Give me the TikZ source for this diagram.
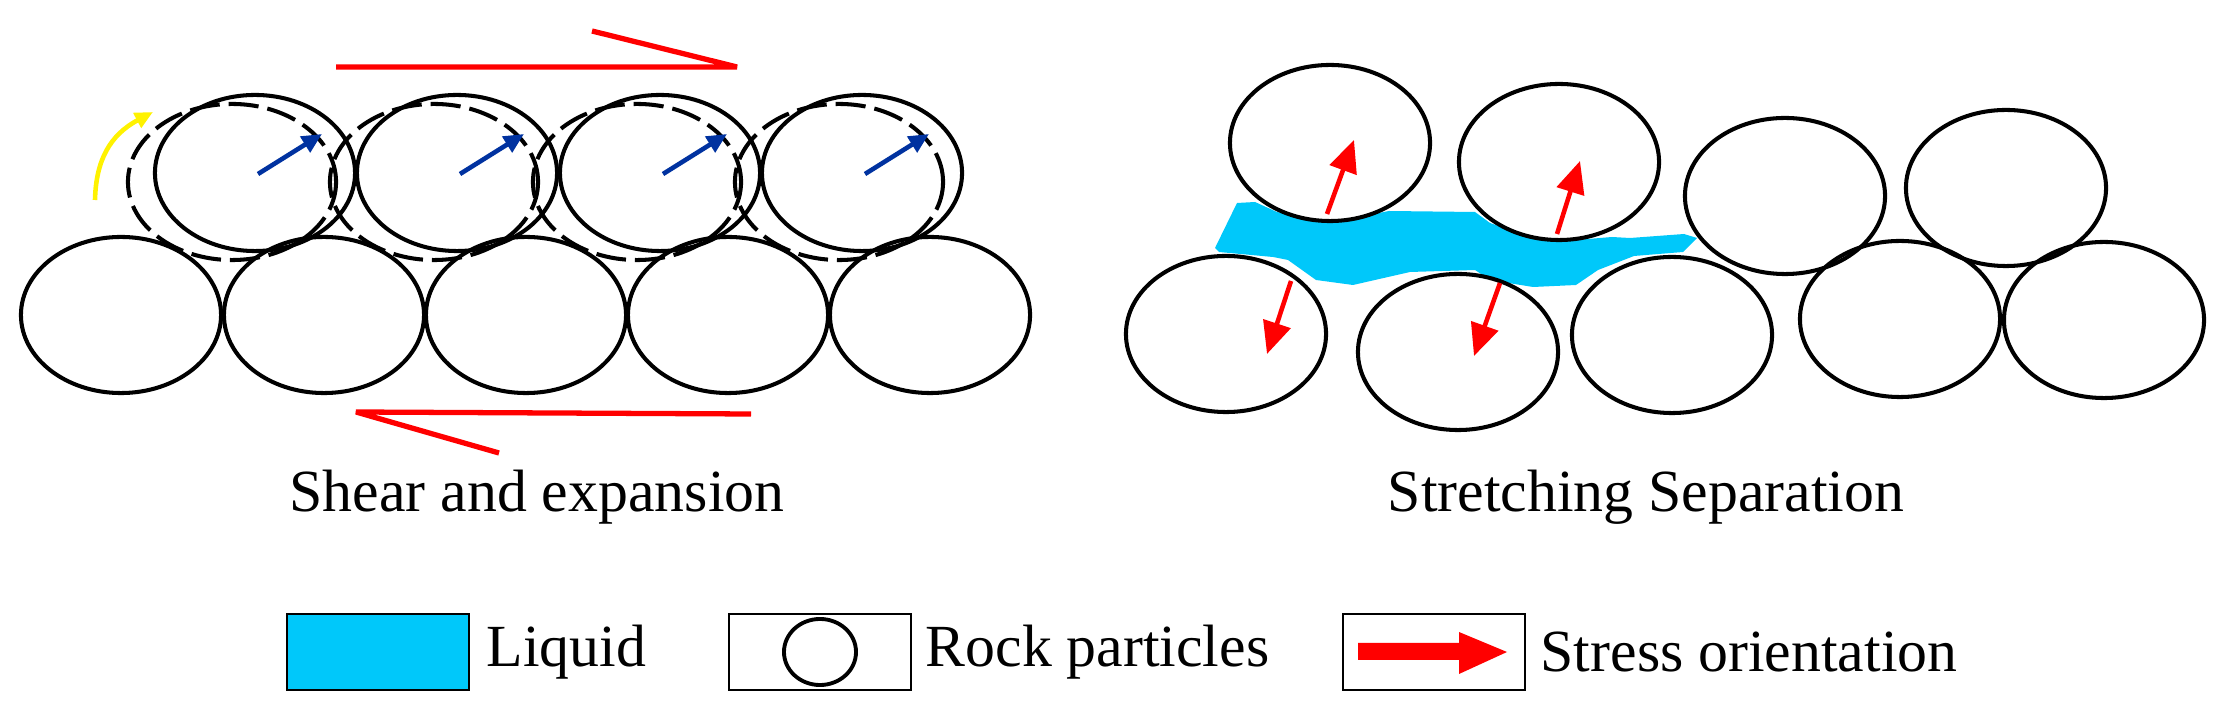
\documentclass[tikz,border=0pt]{standalone}
\usepackage{fontspec}
\setmainfont{Liberation Serif}
\usetikzlibrary{shapes.geometric,arrows.meta}
\definecolor{liq}{RGB}{0,200,250}
\definecolor{dblue}{RGB}{0,50,160}
\begin{document}
\begin{tikzpicture}[x=0.01cm,y=-0.01cm,
  rock/.style={ellipse,draw=black,line width=1.15pt,inner sep=0,outer sep=0,minimum width=2cm,minimum height=1.56cm},
  ghost/.style={ellipse,draw=black,line width=1.15pt,dash pattern=on 0.3cm off 0.09cm,inner sep=0,outer sep=0,minimum width=2.08cm,minimum height=1.56cm},
  shear/.style={red,line width=1.5pt,line join=bevel},
  rot/.style={dblue,line width=1.3pt,-{Triangle[length=0.2cm,width=0.18cm]}},
  stress/.style={red,line width=1.3pt,-{Triangle[length=0.32cm,width=0.28cm]}},
  lbl/.style={font=\fontsize{17pt}{20pt}\selectfont,inner sep=0},
  box/.style={draw=black,line width=0.6pt,minimum width=1.82cm,minimum height=0.76cm,inner sep=0}]
\useasboundingbox (0,0) rectangle (2215,710);
% ---- left panel ----
\foreach \x/\n in {121/1,324/2,526/3,728/4,930/5}
  \node[rock] (LB\n) at (\x,315) {};
\foreach \x/\n in {232/1,434/2,637/3,839/4}
  \node[ghost] (LD\n) at (\x,182) {};
\foreach \x/\n in {255/1,457/2,660/3,862/4}{
  \node[rock] (LT\n) at (\x,173) {};
  \coordinate (LS\n) at (\x+3,174);
  \coordinate (LE\n) at (\x+67,134);
  \draw[rot] (LS\n) -- (LE\n);
}
\coordinate (y0) at (95,200);
\coordinate (y1) at (153,112);
\draw[yellow,line width=1.3pt,-{Triangle[length=0.18cm,width=0.16cm]}] (y0) .. controls (96,160) and (110,135) .. (y1);
\coordinate (t0) at (336,67); \coordinate (t1) at (737,67); \coordinate (t2) at (592,31);
\draw[shear] (t0) -- (t1) -- (t2);
\coordinate (b0) at (751,414); \coordinate (b1) at (356,412); \coordinate (b2) at (499,453);
\draw[shear] (b0) -- (b1) -- (b2);
\node[lbl] (capL) at (537,497) {Shear and expansion};
% ---- right panel ----
\fill[liq] (1237,203) -- (1255,202) -- (1277,212) -- (1316,220) -- (1353,218) -- (1389,211) -- (1475,212) -- (1490,223) -- (1533,238) -- (1576,240) -- (1612,237) -- (1630,238) -- (1684,234) -- (1697,238) -- (1683,252) -- (1634,256) -- (1598,270) -- (1576,285) -- (1533,287) -- (1490,280) -- (1475,270) -- (1410,272) -- (1353,285) -- (1316,280) -- (1288,260) -- (1273,257) -- (1219,252) -- (1215,248) -- cycle;
\node[rock,fill=white] (RT1) at (1330,143) {};
\node[rock,fill=white] (RT2) at (1559,162) {};
\node[rock,fill=white] (RB1) at (1226,334) {};
\node[rock,fill=white] (RB2) at (1458,352) {};
\node[rock,fill=white] (RB3) at (1672,335) {};
\node[rock] (RT3) at (1785,196) {};
\node[rock] (RT4) at (2006,188) {};
\node[rock] (RB4) at (1900,319) {};
\node[rock] (RB5) at (2104,320) {};
\coordinate (s1a) at (1327,214); \coordinate (s1b) at (1354,140);
\coordinate (s2a) at (1557,234); \coordinate (s2b) at (1580,161);
\coordinate (s3a) at (1291,281); \coordinate (s3b) at (1267,354);
\coordinate (s4a) at (1500,283); \coordinate (s4b) at (1474,356);
\draw[stress] (s1a) -- (s1b);
\draw[stress] (s2a) -- (s2b);
\draw[stress] (s3a) -- (s3b);
\draw[stress] (s4a) -- (s4b);
\node[lbl] (capR) at (1646,497) {Stretching Separation};
% ---- legend ----
\node[box,fill=liq] (kL) at (378,652) {};
\node[lbl,anchor=west] (tL) at (486,652) {Liquid};
\node[box] (kR) at (820,652) {};
\node[draw=black,line width=1.1pt,ellipse,minimum width=0.72cm,minimum height=0.66cm,inner sep=0] (kRe) at (kR) {};
\node[lbl,anchor=west] (tR) at (925,652) {Rock particles};
\node[box] (kS) at (1434,652) {};
\fill[red] (1358,643) -- (1459,643) -- (1459,632) -- (1507,652) -- (1459,674) -- (1459,660) -- (1358,660) -- cycle;
\node[lbl,anchor=west] (tS) at (1540,652) {Stress orientation};
\end{tikzpicture}
\end{document}
